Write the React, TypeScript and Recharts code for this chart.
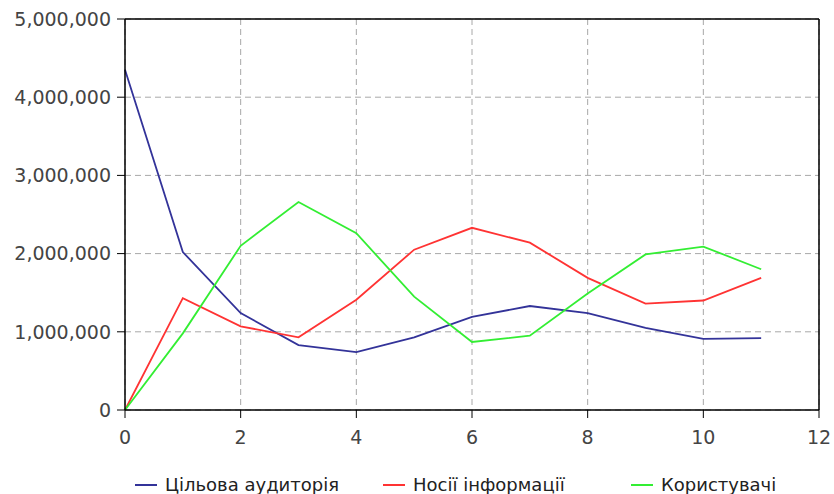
import React from 'react';
import { LineChart, Line, XAxis, YAxis, CartesianGrid, Legend, ReferenceLine } from 'recharts';

if (typeof document !== 'undefined') {
  document.body.style.margin = '0';
}

const xValues = [0, 1, 2, 3, 4, 5, 6, 7, 8, 9, 10, 11];
const audience = [4350000, 2020000, 1240000, 830000, 740000, 930000, 1190000, 1330000, 1240000, 1050000, 910000, 920000];
const carriers = [0, 1430000, 1070000, 930000, 1410000, 2050000, 2330000, 2140000, 1690000, 1360000, 1400000, 1690000];
const users = [0, 980000, 2100000, 2660000, 2260000, 1450000, 870000, 950000, 1490000, 1990000, 2090000, 1800000];

const xTicks = [0, 2, 4, 6, 8, 10, 12];
const yTicks = [0, 1000000, 2000000, 3000000, 4000000, 5000000];

const seriesNames = ['Цільова аудиторія', 'Носії інформації', 'Користувачі'];
const seriesColors = ['#333399', '#ff3333', '#33ee33'];

const data = xValues.map((x, i) => ({ x, a: audience[i], c: carriers[i], u: users[i] }));

const fmt = (v: number) => v.toLocaleString('en-US');
const FONT = 'DejaVu Sans, Verdana, sans-serif';

const LegendContent = () => (
  <div style={{ display: 'flex', paddingLeft: 135, paddingTop: 14, fontFamily: FONT, fontSize: 18, color: '#222', width: 834, boxSizing: 'border-box', overflow: 'visible' }}>
    {seriesNames.map((n, i) => (
      <div key={n} style={{ width: 248, flexShrink: 0, display: 'flex', alignItems: 'center', whiteSpace: 'nowrap' }}>
        <svg width={30} height={10} style={{ flexShrink: 0 }}>
          <line x1={0} y1={5} x2={22} y2={5} stroke={seriesColors[i]} strokeWidth={2} />
        </svg>
        <span>{n}</span>
      </div>
    ))}
  </div>
);

export default function App() {
  return (
    <LineChart width={834} height={494} data={data} margin={{ top: 19, right: 15, left: 0, bottom: 0 }}>
      <CartesianGrid stroke="#a8a8a8" strokeDasharray="6 4" />
      <XAxis
        dataKey="x"
        type="number"
        domain={[0, 12]}
        ticks={xTicks}
        tickSize={8}
        tickMargin={13}
        height={50}
        axisLine={{ stroke: '#000', strokeWidth: 1.5 }}
        tickLine={{ stroke: '#000' }}
        tick={{ fill: '#444', fontSize: 19, fontFamily: FONT }}
      />
      <YAxis
        type="number"
        domain={[0, 5000000]}
        ticks={yTicks}
        width={125}
        tickSize={8}
        tickMargin={6}
        tickFormatter={fmt}
        axisLine={{ stroke: '#000', strokeWidth: 1.5 }}
        tickLine={{ stroke: '#000' }}
        tick={{ fill: '#444', fontSize: 19, fontFamily: FONT }}
      />
      <ReferenceLine y={5000000} stroke="#000" strokeWidth={1.5} />
      <ReferenceLine x={12} stroke="#000" strokeWidth={1.5} />
      <Line dataKey="a" name={seriesNames[0]} stroke={seriesColors[0]} strokeWidth={1.8} dot={false} isAnimationActive={false} />
      <Line dataKey="c" name={seriesNames[1]} stroke={seriesColors[1]} strokeWidth={1.8} dot={false} isAnimationActive={false} />
      <Line dataKey="u" name={seriesNames[2]} stroke={seriesColors[2]} strokeWidth={1.8} dot={false} isAnimationActive={false} />
      <Legend verticalAlign="bottom" height={34} wrapperStyle={{ left: 0, width: 834 }} content={<LegendContent />} />
    </LineChart>
  );
}
